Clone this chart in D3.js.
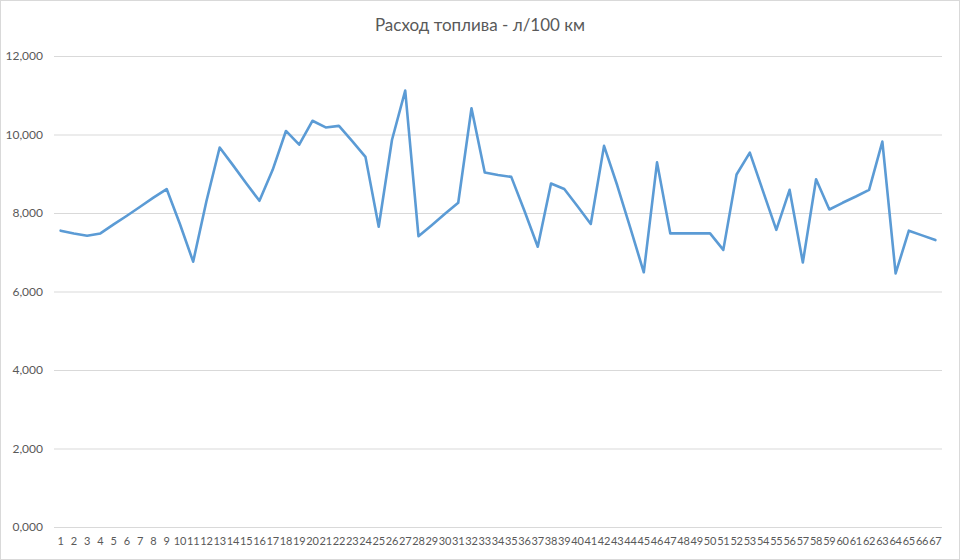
<!DOCTYPE html>
<html>
<head>
<meta charset="utf-8">
<script src="https://cdn.jsdelivr.net/npm/d3@7"></script>
<style>
  html, body { margin: 0; padding: 0; background: #fff; }
  svg { display: block; }
</style>
</head>
<body>
<svg id="chart" width="960" height="560"></svg>
<script>
const title = "Расход топлива - л/100 км";
const categories = d3.range(1, 68).map(String);
const consumption = [
  7.55, 7.48, 7.42, 7.48, 7.71, 7.93, 8.16, 8.39, 8.61, 7.72,
  6.76, 8.30, 9.67, 9.22, 8.76, 8.31, 9.10, 10.09, 9.74, 10.35,
  10.18, 10.22, 9.83, 9.43, 7.65, 9.86, 11.12, 7.41, 7.69, 7.98,
  8.26, 10.67, 9.03, 8.97, 8.92, 8.05, 7.14, 8.75, 8.61, 8.17,
  7.72, 9.71, 8.70, 7.60, 6.49, 9.29, 7.48, 7.48, 7.48, 7.48,
  7.06, 8.98, 9.54, 8.55, 7.57, 8.59, 6.74, 8.86, 8.09, 8.26,
  8.42, 8.59, 9.82, 6.46, 7.55, 7.43, 7.31
];
const yTicks = [0, 2, 4, 6, 8, 10, 12];

const W = 960, H = 560;
const margin = { left: 54, right: 18, top: 56, bottom: 33 };
const svg = d3.select("#chart");

svg.append("rect")
  .attr("x", 0.5).attr("y", 0.5)
  .attr("width", W - 1).attr("height", H - 1)
  .attr("fill", "#fff").attr("stroke", "#d9d9d9");

const x = d3.scaleBand()
  .domain(categories)
  .range([margin.left, W - margin.right]);

const y = d3.scaleLinear()
  .domain([0, 12])
  .range([H - margin.bottom, margin.top]);

const ru = d3.formatLocale({ decimal: ",", thousands: "\u00a0", grouping: [3], currency: ["", ""] });
const fmt = ru.format(".3f");

// gridlines + y labels
const yAxis = d3.axisLeft(y)
  .tickValues(yTicks)
  .tickSize(-(W - margin.left - margin.right))
  .tickPadding(11)
  .tickFormat(fmt);

const gy = svg.append("g")
  .attr("transform", `translate(${margin.left},0)`)
  .call(yAxis);
gy.select(".domain").remove();
gy.selectAll(".tick line").attr("stroke", "#d9d9d9").attr("stroke-width", 1);
gy.selectAll(".tick text")
  .attr("fill", "#595959")
  .style("font-family", "Lato, 'Open Sans', sans-serif")
  .style("font-size", "12px");

// x labels
const xAxis = d3.axisBottom(x).tickSize(0).tickPadding(10);
const gx = svg.append("g")
  .attr("transform", `translate(0,${H - margin.bottom})`)
  .call(xAxis);
gx.select(".domain").remove();
gx.selectAll(".tick text")
  .attr("fill", "#595959")
  .style("font-family", "Lato, 'Open Sans', sans-serif")
  .style("font-size", "11px")
  .style("letter-spacing", "-0.2px");

// line
const line = d3.line()
  .x((d, i) => x(categories[i]) + x.bandwidth() / 2)
  .y(d => y(d));

svg.append("path")
  .datum(consumption)
  .attr("fill", "none")
  .attr("stroke", "#5b9bd5")
  .attr("stroke-width", 2.6)
  .attr("stroke-linejoin", "round")
  .attr("stroke-linecap", "round")
  .attr("d", line);

// title
svg.append("text")
  .attr("x", W / 2)
  .attr("y", 31)
  .attr("text-anchor", "middle")
  .attr("fill", "#595959")
  .style("font-family", "Lato, 'Open Sans', sans-serif")
  .style("font-size", "17px")
  .text(title);
</script>
</body>
</html>
